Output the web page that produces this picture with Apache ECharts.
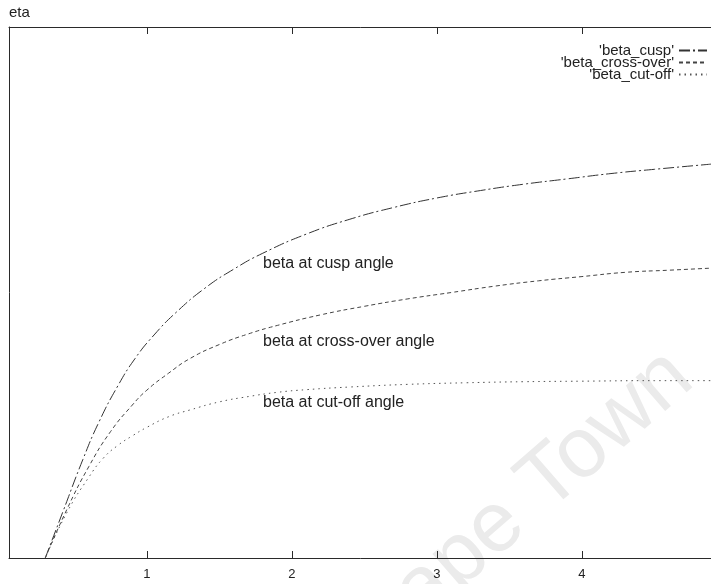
<!DOCTYPE html>
<html>
<head>
<meta charset="utf-8">
<script src="https://cdn.jsdelivr.net/npm/echarts@6/dist/echarts.min.js"></script>
<style>
  html, body { margin: 0; padding: 0; background: #fff; }
  #chart { width: 711px; height: 584px; }
</style>
</head>
<body>
<div id="chart"></div>
<script>
// beta versus x for the three characteristic angles
const cuspX = [0.30, 0.42, 0.56, 0.67, 0.80, 0.92, 1.05, 1.20, 1.40, 1.60, 1.80, 2.10, 2.40, 2.70, 3.00, 3.30, 3.60, 3.90, 4.20, 4.50, 4.90];
const cuspY = [0, 4.3, 9.3, 12.8, 16.2, 18.8, 21.0, 23.1, 25.4, 27.2, 28.7, 30.5, 31.9, 33.0, 33.9, 34.6, 35.2, 35.7, 36.2, 36.6, 37.1];

const crossX = [0.30, 0.45, 0.60, 0.75, 0.90, 1.00, 1.15, 1.30, 1.50, 1.70, 1.90, 2.20, 2.50, 2.80, 3.10, 3.40, 3.70, 4.00, 4.30, 4.60, 4.90];
const crossY = [0, 4.6, 8.6, 11.9, 14.4, 15.8, 17.4, 18.8, 20.1, 21.1, 21.9, 22.9, 23.7, 24.4, 25.0, 25.6, 26.1, 26.5, 26.9, 27.1, 27.3];

const cutX = [0.30, 0.45, 0.60, 0.70, 0.80, 0.90, 1.00, 1.15, 1.30, 1.50, 1.70, 1.90, 2.10, 2.40, 2.80, 3.20, 3.60, 4.00, 4.50, 4.90];
const cutY = [0, 4.3, 7.6, 9.4, 10.6, 11.5, 12.3, 13.3, 13.95, 14.7, 15.2, 15.6, 15.85, 16.1, 16.35, 16.5, 16.6, 16.65, 16.7, 16.7];

const xTickValues = [1, 2, 3, 4, 5];
const xLabelValues = [1, 2, 3, 4];
const seriesNames = ["'beta_cusp'", "'beta_cross-over'", "'beta_cut-off'"];
const curveLabels = ['beta at cusp angle', 'beta at cross-over angle', 'beta at cut-off angle'];

const pairs = (xs, ys) => xs.map((x, i) => [x, ys[i]]);

const FONT = '"Liberation Sans", Arial, Helvetica, sans-serif';
const INK = '#2a2a2a';
const lineColors = ['#333333', '#444444', '#555555'];
const lineDashes = [[11, 3, 2, 3], [4, 3], [1.5, 4]];

const chart = echarts.init(document.getElementById('chart'), null, { renderer: 'canvas' });

const axisCommon = {
  type: 'value',
  min: 0.05,
  max: 5,
  splitLine: { show: false },
  axisLine: { show: true, onZero: false, lineStyle: { color: INK, width: 1 } },
  axisTick: { show: true, inside: true, length: 7, customValues: xTickValues, lineStyle: { color: INK } }
};

const curve = (i, xs, ys) => ({
  name: seriesNames[i],
  type: 'line',
  smooth: true,
  symbol: 'none',
  showSymbol: false,
  data: pairs(xs, ys),
  itemStyle: { color: lineColors[i] },
  lineStyle: { color: lineColors[i], width: 1, type: lineDashes[i] }
});

const option = {
  animation: false,
  backgroundColor: '#ffffff',
  grid: { left: 9, right: -16, top: 27, bottom: 26, containLabel: false, outerBoundsMode: 'none' },
  xAxis: [
    Object.assign({}, axisCommon, {
      position: 'bottom',
      axisLabel: {
        show: true, customValues: xLabelValues, margin: 10,
        color: '#222', fontFamily: FONT, fontSize: 13
      }
    }),
    Object.assign({}, axisCommon, {
      position: 'top',
      axisLabel: { show: false }
    })
  ],
  yAxis: {
    type: 'value',
    min: 0,
    max: 50,
    name: 'eta',
    nameLocation: 'end',
    nameGap: 14,
    nameTextStyle: { align: 'left', verticalAlign: 'middle', color: '#222', fontFamily: FONT, fontSize: 15 },
    splitLine: { show: false },
    axisLine: { show: true, onZero: false, lineStyle: { color: INK, width: 1 } },
    axisTick: { show: false },
    axisLabel: { show: false }
  },
  legend: {
    orient: 'vertical',
    right: 3,
    top: 43,
    align: 'right',
    itemWidth: 28,
    itemHeight: 8,
    itemGap: -3,
    padding: 0,
    itemStyle: { opacity: 0 },
    textStyle: { color: '#222', fontFamily: FONT, fontSize: 15 },
    data: seriesNames
  },
  graphic: [
    {
      type: 'text', x: 709, y: 398, rotation: 0.716, z: -10, silent: true,
      style: { text: 'Cape Town', fill: '#ebebeb', font: '85px ' + FONT, align: 'right', verticalAlign: 'bottom' }
    },
    { type: 'text', left: 263, top: 256, style: { text: curveLabels[0], fill: '#222', font: '16px ' + FONT } },
    { type: 'text', left: 263, top: 334, style: { text: curveLabels[1], fill: '#222', font: '16px ' + FONT } },
    { type: 'text', left: 263, top: 395, style: { text: curveLabels[2], fill: '#222', font: '16px ' + FONT } }
  ],
  series: [
    curve(0, cuspX, cuspY),
    curve(1, crossX, crossY),
    curve(2, cutX, cutY)
  ]
};

chart.setOption(option);
</script>
</body>
</html>
